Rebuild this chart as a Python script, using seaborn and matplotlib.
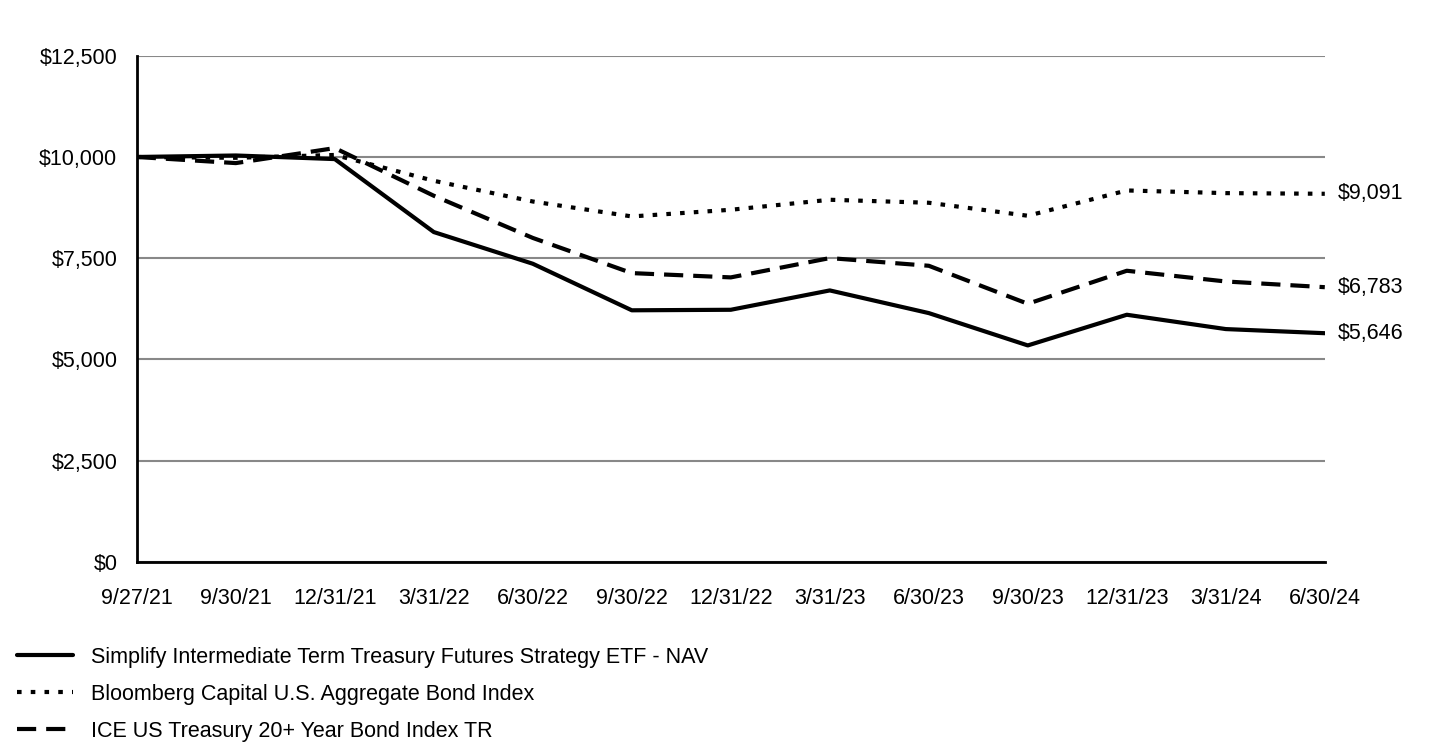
import matplotlib
matplotlib.use("Agg")
import matplotlib.pyplot as plt
import pandas as pd
import seaborn as sns
from matplotlib.ticker import FuncFormatter

dates = ['9/27/21', '9/30/21', '12/31/21', '3/31/22', '6/30/22', '9/30/22', '12/31/22',
         '3/31/23', '6/30/23', '9/30/23', '12/31/23', '3/31/24', '6/30/24']
nav = [10000, 10037, 9948, 8145, 7362, 6212, 6225, 6703, 6143, 5344, 6102, 5748, 5646]
agg = [10000, 9980, 10050, 9412, 8900, 8531, 8696, 8943, 8869, 8548, 9173, 9107, 9091]
ice = [10000, 9849, 10220, 9042, 8000, 7131, 7025, 7502, 7312, 6373, 7189, 6924, 6783]

names = ['Simplify Intermediate Term Treasury Futures Strategy ETF - NAV',
         'Bloomberg Capital U.S. Aggregate Bond Index',
         'ICE US Treasury 20+ Year Bond Index TR']
end_labels = ['$5,646', '$9,091', '$6,783']

sns.set_theme(style="white")
plt.rcParams['font.family'] = ['Liberation Sans', 'DejaVu Sans']
plt.rcParams['text.color'] = 'black'
plt.rcParams['xtick.color'] = 'black'
plt.rcParams['ytick.color'] = 'black'

FS = 15.5

df = pd.DataFrame({'idx': range(len(dates)), 'nav': nav, 'agg': agg, 'ice': ice})

fig = plt.figure(figsize=(14.4, 7.44), dpi=100)
ax = fig.add_axes([0.095, 0.245, 0.825, 0.680])

styles = [
    dict(linestyle='-'),
    dict(dashes=(1.1, 2.2), dash_capstyle='butt'),
    dict(dashes=(4.6, 2.4), dash_capstyle='butt'),
]
for col, name, st in zip(['nav', 'agg', 'ice'], names, styles):
    sns.lineplot(data=df, x='idx', y=col, ax=ax, color='black', linewidth=3, label=name, **st)

for col, lab in zip(['nav', 'agg', 'ice'], end_labels):
    ax.annotate(lab, xy=(df['idx'].iloc[-1], df[col].iloc[-1]), xytext=(9, 0),
                textcoords='offset points', va='center', ha='left', fontsize=FS)

ax.set_xlim(0, 12)
ax.set_ylim(0, 12500)
ax.set_yticks(range(0, 12501, 2500))
ax.yaxis.set_major_formatter(FuncFormatter(lambda v, p: f'${v:,.0f}'))
ax.set_xticks(range(len(dates)))
ax.set_xticklabels(dates)
ax.tick_params(axis='both', labelsize=FS, length=0)
ax.tick_params(axis='x', pad=19)
ax.tick_params(axis='y', pad=14)
ax.set_xlabel('')
ax.set_ylabel('')

ax.grid(axis='y', color='#888888', linewidth=1.5)
ax.set_axisbelow(True)
for s in ['top', 'right']:
    ax.spines[s].set_visible(False)
for s in ['left', 'bottom']:
    ax.spines[s].set_color('black')
    ax.spines[s].set_linewidth(2)

ax.legend(loc='upper left', bbox_to_anchor=(0.0055, 0.142), bbox_transform=fig.transFigure,
          frameon=False, fontsize=FS, handlelength=2.62, handletextpad=0.85, labelspacing=0.74,
          borderaxespad=0, labelcolor='black')

fig.savefig('out.png', dpi=100)
